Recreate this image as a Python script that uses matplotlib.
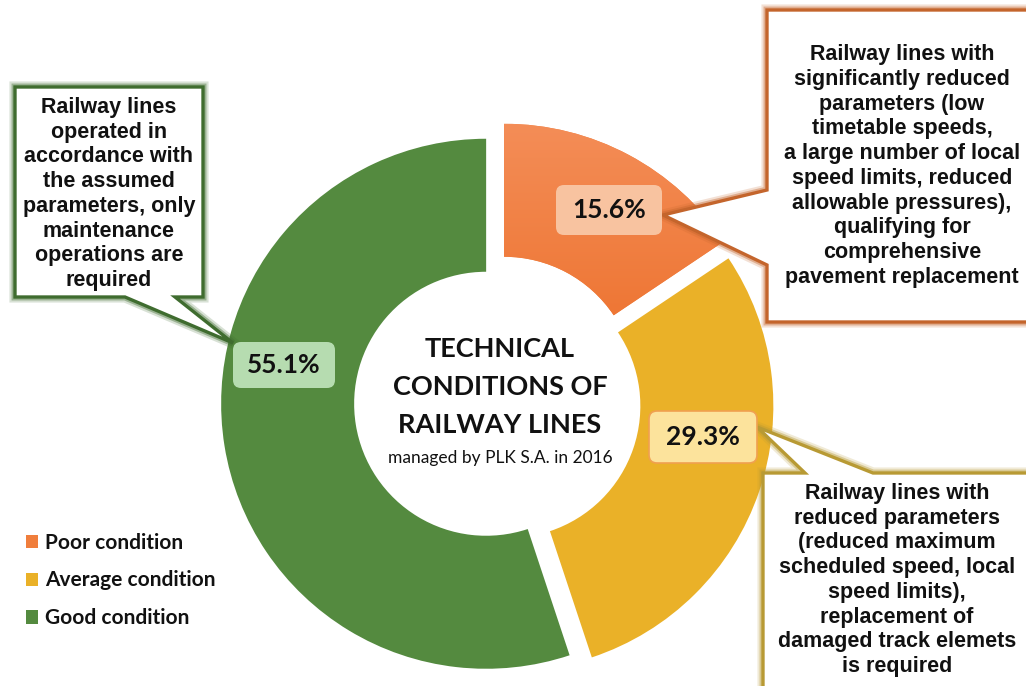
import numpy as np
import matplotlib
matplotlib.use("Agg")
import matplotlib.pyplot as plt
import matplotlib.patheffects as pe
from matplotlib.patches import Polygon, FancyBboxPatch
from matplotlib.colors import LinearSegmentedColormap

# --- data ---
categories = ["Poor condition", "Average condition", "Good condition"]
shares = [15.6, 29.3, 55.1]
colors = ["#F07E3C", "#EAB128", "#548A3F"]

descriptions = [
    "Railway lines with\nsignificantly reduced\nparameters (low\ntimetable speeds,\n"
    "a large number of local\nspeed limits, reduced\nallowable pressures),\n"
    "qualifying for\ncomprehensive\npavement replacement",
    "Railway lines with\nreduced parameters\n(reduced maximum\nscheduled speed, local\n"
    "speed limits),\nreplacement of\ndamaged track elemets\nis required",
    "Railway lines\noperated in\naccordance with\nthe assumed\nparameters, only\n"
    "maintenance\noperations are\nrequired",
]

title = "TECHNICAL\nCONDITIONS OF\nRAILWAY LINES"
subtitle = "managed by PLK S.A. in 2016"

# --- figure in pixel coordinates (y down) ---
W, H = 1026, 686
fig = plt.figure(figsize=(W / 100, H / 100), dpi=100)
ax = fig.add_axes([0, 0, 1, 1])

wedges, _ = ax.pie(shares, colors=colors, explode=[15, 12, 11],
                   center=(497, 402), radius=265, startangle=-90,
                   counterclock=True, wedgeprops=dict(width=133, edgecolor="none"))
ax.set_xlim(0, W)
ax.set_ylim(H, 0)
ax.set_aspect("equal")
ax.axis("off")

# orange gradient (lighter at the top)
v = wedges[0].get_path().vertices
grad = np.linspace(0, 1, 256).reshape(-1, 1)
cmap = LinearSegmentedColormap.from_list("orange", ["#F48D57", "#EC6E28"])
im = ax.imshow(grad, cmap=cmap, aspect="auto", zorder=wedges[0].get_zorder() + 0.1,
               extent=(v[:, 0].min(), v[:, 0].max(), v[:, 1].max(), v[:, 1].min()))
im.set_clip_path(wedges[0])

# --- centre text ---
ax.text(500, 387, title, ha="center", va="center", fontsize=19.5, fontweight="bold",
        family="Lato", color="#111111", linespacing=1.71)
ax.text(500, 458, subtitle, ha="center", va="center", fontsize=12.5,
        family="Lato", color="#111111")

# --- callouts ---
callouts = [
    dict(poly=[(767, 10), (1040, 10), (1040, 322), (767, 322), (767, 265), (663, 215), (767, 190)],
         edge="#C4652C", text_xy=(902, 166)),
    dict(poly=[(763, 473), (805, 473), (757, 427), (873, 473), (1040, 473), (1040, 700), (763, 700)],
         edge="#B89A34", text_xy=(897, 580)),
    dict(poly=[(15, 87), (203, 87), (203, 297), (175, 297), (233, 343), (125, 297), (15, 297)],
         edge="#3F6C2F", text_xy=(109, 194)),
]
for c, desc in zip(callouts, descriptions):
    p = Polygon(c["poly"], closed=True, facecolor="white", edgecolor=c["edge"],
                linewidth=2.4, joinstyle="miter", zorder=3)
    p.set_path_effects([pe.Stroke(linewidth=8, foreground=c["edge"], alpha=0.2),
                        pe.Stroke(linewidth=5, foreground=c["edge"], alpha=0.4),
                        pe.Normal()])
    ax.add_patch(p)
    ax.text(*c["text_xy"], desc, ha="center", va="center", fontsize=15.5,
            fontweight="bold", family="Liberation Sans", color="#111111",
            linespacing=1.23, zorder=4)

# --- percentage boxes ---
pct_xy = [(609, 210), (703, 437), (284, 365)]
pct_size = [(106, 50), (108, 52), (102, 46)]
pct_fill = ["#F8C3A0", "#FCE39C", "#B6DCB0"]
pct_edge = ["none", "#F0A050", "none"]
for val, (x, y), (bw, bh), fc, ec in zip(shares, pct_xy, pct_size, pct_fill, pct_edge):
    ax.add_patch(FancyBboxPatch((x - bw / 2, y - bh / 2), bw, bh,
                                boxstyle="round,pad=0,rounding_size=8",
                                facecolor=fc, edgecolor=ec, linewidth=1.2, zorder=5))
    ax.text(x, y, f"{val:.1f}%", ha="center", va="center", fontsize=19,
            fontweight="bold", family="Lato", color="#111111", zorder=6)

# --- legend ---
leg = ax.legend(wedges, categories, loc="upper left", bbox_to_anchor=(0.007, 0.251),
                frameon=False, handlelength=0.6, handleheight=0.6, handletextpad=0.3,
                labelspacing=0.86, prop=dict(family="Lato", weight="bold", size=15))
for t in leg.get_texts():
    t.set_color("#111111")

plt.savefig("out.png", dpi=100)
